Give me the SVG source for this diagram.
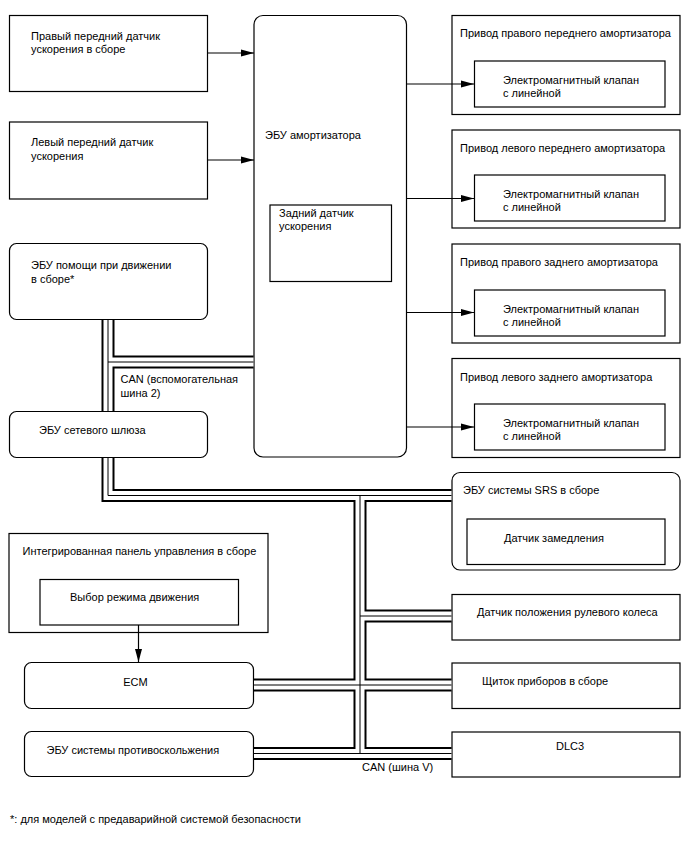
<svg xmlns="http://www.w3.org/2000/svg" width="688" height="852" viewBox="0 0 688 852">
<style>
text{font-family:"Liberation Sans",Arial,sans-serif;font-size:11px;fill:#000}
.box{fill:#fff;stroke:#000;stroke-width:1.2}
.arr{stroke:#000;stroke-width:1.2;fill:none}
.bo{stroke:#000;stroke-width:13;fill:none;stroke-linejoin:miter}
.bw{stroke:#fff;stroke-width:9;fill:none;stroke-linejoin:miter}
.bc{stroke:#000;stroke-width:1;fill:none}
</style>
<defs>
<marker id="ah" markerUnits="userSpaceOnUse" markerWidth="14" markerHeight="8" refX="13" refY="4" orient="auto">
<path d="M0,0.5 L13,4 L0,7.5 z" fill="#000"/>
</marker>
<path id="busA1" d="M108,320 V411"/>
<path id="busA2" d="M108,362 H253.5"/>
<path id="busB1" d="M108,458 V495.5 H451.5"/>
<path id="busB2" d="M360,495.5 V753.5"/>
<path id="busB3" d="M360,616 H451.5"/>
<path id="busB4" d="M254,685 H451.5"/>
<path id="busB5" d="M254,753.5 H451.5"/>
</defs>
<g id="rf-accel">
<rect class="box" x="9.5" y="15.5" width="198" height="76"/>
<text x="31" y="39.5">Правый передний датчик</text>
<text x="31" y="53">ускорения в сборе</text>
</g>
<g id="lf-accel">
<rect class="box" x="9.5" y="122" width="198" height="77"/>
<text x="31" y="146">Левый передний датчик</text>
<text x="31" y="159.5">ускорения</text>
</g>
<g id="damper-ecu">
<rect class="box" x="254" y="15.5" width="152.5" height="441.5" rx="9"/>
<text x="265" y="139">ЭБУ амортизатора</text>
<g id="rear-accel">
<rect class="box" x="270" y="205" width="121.5" height="76.5"/>
<text x="279" y="217">Задний датчик</text>
<text x="279" y="230">ускорения</text>
</g>
</g>
<g id="rf-actuator">
<rect class="box" x="452" y="15.5" width="228" height="99"/>
<text x="460" y="37">Привод правого переднего амортизатора</text>
<rect class="box" x="474.5" y="61" width="190.5" height="46"/>
<text x="503" y="84">Электромагнитный клапан</text>
<text x="503" y="97">с линейной</text>
</g>
<g id="lf-actuator">
<rect class="box" x="452" y="130" width="228" height="98"/>
<text x="460" y="152">Привод левого переднего амортизатора</text>
<rect class="box" x="474.5" y="175" width="190.5" height="46"/>
<text x="503" y="198">Электромагнитный клапан</text>
<text x="503" y="211">с линейной</text>
</g>
<g id="rr-actuator">
<rect class="box" x="452" y="244" width="228" height="99"/>
<text x="460" y="266">Привод правого заднего амортизатора</text>
<rect class="box" x="474.5" y="290" width="190.5" height="46"/>
<text x="503" y="312.5">Электромагнитный клапан</text>
<text x="503" y="325.5">с линейной</text>
</g>
<g id="lr-actuator">
<rect class="box" x="452" y="358.5" width="228" height="99"/>
<text x="460" y="380.5">Привод левого заднего амортизатора</text>
<rect class="box" x="474.5" y="404" width="190.5" height="46"/>
<text x="503" y="427">Электромагнитный клапан</text>
<text x="503" y="440">с линейной</text>
</g>
<g id="drive-assist-ecu">
<rect class="box" x="9.5" y="243.5" width="198" height="76" rx="7"/>
<text x="31" y="269">ЭБУ помощи при движении</text>
<text x="31" y="283">в сборе*</text>
</g>
<g id="gateway-ecu">
<rect class="box" x="9.5" y="411.5" width="198" height="46" rx="7"/>
<text x="39" y="434">ЭБУ сетевого шлюза</text>
</g>
<g id="srs-ecu">
<rect class="box" x="452" y="472.5" width="228" height="97.5" rx="8"/>
<text x="463" y="494">ЭБУ системы SRS в сборе</text>
<g id="decel-sensor">
<rect class="box" x="467" y="519" width="198" height="45.5"/>
<text x="504" y="542">Датчик замедления</text>
</g>
</g>
<g id="steering-sensor">
<rect class="box" x="452" y="594.5" width="228" height="45.5"/>
<text x="477" y="616">Датчик положения рулевого колеса</text>
</g>
<g id="combination-meter">
<rect class="box" x="452" y="663" width="228" height="45.5"/>
<text x="482" y="684.5">Щиток приборов в сборе</text>
</g>
<g id="dlc3">
<rect class="box" x="452" y="732" width="228" height="45"/>
<text x="570" y="750" text-anchor="middle">DLC3</text>
</g>
<g id="integrated-panel">
<rect class="box" x="9" y="533.5" width="259" height="99"/>
<text x="22.5" y="555">Интегрированная панель управления в сборе</text>
<g id="drive-mode-select">
<rect class="box" x="40" y="579.5" width="198.5" height="45.5"/>
<text x="70" y="601">Выбор режима движения</text>
</g>
</g>
<g id="ecm">
<rect class="box" x="24.5" y="662.5" width="229" height="46" rx="7"/>
<text x="135.5" y="686" text-anchor="middle">ECM</text>
</g>
<g id="skid-control-ecu">
<rect class="box" x="24.5" y="731.5" width="229" height="45" rx="7"/>
<text x="46.5" y="754">ЭБУ системы противоскольжения</text>
</g>
<g id="connectors">
<g class="bo"><use href="#busA1"/><use href="#busA2"/><use href="#busB1"/><use href="#busB2"/><use href="#busB3"/><use href="#busB4"/><use href="#busB5"/></g>
<g class="bw"><use href="#busA1"/><use href="#busA2"/><use href="#busB1"/><use href="#busB2"/><use href="#busB3"/><use href="#busB4"/><use href="#busB5"/></g>
<g class="bc"><use href="#busA1"/><use href="#busA2"/><use href="#busB1"/><use href="#busB2"/><use href="#busB3"/><use href="#busB4"/><use href="#busB5"/></g>
<line class="arr" x1="208" y1="53" x2="254" y2="53" marker-end="url(#ah)"/>
<line class="arr" x1="208" y1="160" x2="254" y2="160" marker-end="url(#ah)"/>
<line class="arr" x1="407" y1="84" x2="474" y2="84" marker-end="url(#ah)"/>
<line class="arr" x1="407" y1="198.5" x2="474" y2="198.5" marker-end="url(#ah)"/>
<line class="arr" x1="407" y1="312.5" x2="474" y2="312.5" marker-end="url(#ah)"/>
<line class="arr" x1="407" y1="427" x2="474" y2="427" marker-end="url(#ah)"/>
<line class="arr" x1="138.5" y1="625" x2="138.5" y2="662" marker-end="url(#ah)"/>
<text x="362" y="771">CAN (шина V)</text>
<text x="120.5" y="383">CAN (вспомогательная</text>
<text x="120.5" y="397">шина 2)</text>
</g>
<text x="10" y="823">*: для моделей с предаварийной системой безопасности</text>
</svg>
